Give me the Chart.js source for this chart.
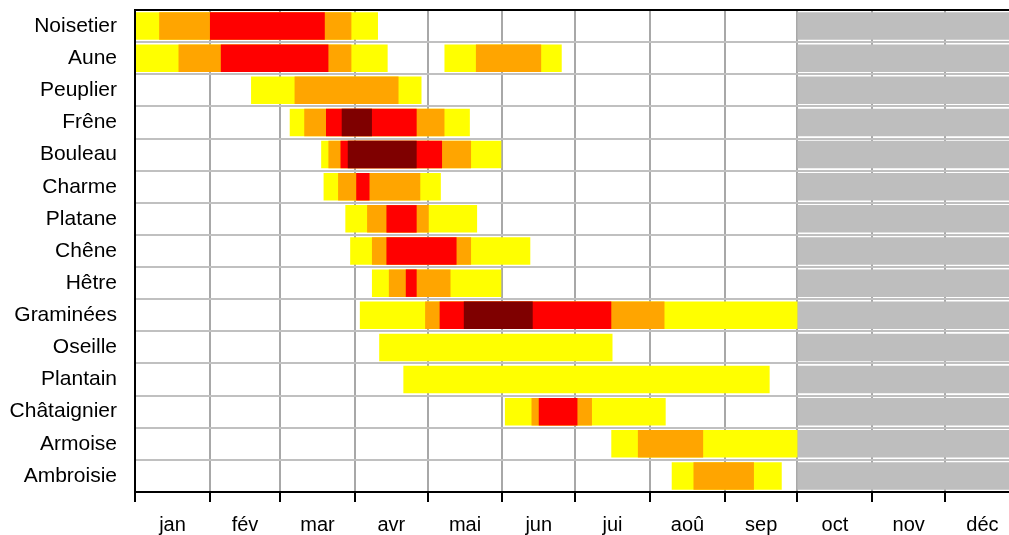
<!DOCTYPE html>
<html>
<head>
<meta charset="utf-8">
<script src="https://cdn.jsdelivr.net/npm/chart.js@4.4.0/dist/chart.umd.min.js"></script>
<style>
html,body{margin:0;padding:0;background:#fff;overflow:hidden}
#wrap{width:1009px;height:535px;position:relative}
</style>
</head>
<body>
<div id="wrap"><canvas id="c"></canvas></div>
<script>
// Categories
const species = ['Noisetier','Aune','Peuplier','Frêne','Bouleau','Charme','Platane','Chêne','Hêtre','Graminées','Oseille','Plantain','Châtaignier','Armoise','Ambroisie'];
// Month tick labels and month start (day of year, leap year)
const monthLabels = ['jan','fév','mar','avr','mai','jun','jui','aoû','sep','oct','nov','déc'];
const monthStarts = [0,31,60,91,121,152,182,213,244,274,305,335,366];
// Pollen periods [startDay, endDay] per level (nested), null = none
const lowLevel      = [[0,100.5],[0,104.5],[48,118.5],[64,138.5],[77,151.5],[78,126.5],[87,141.5],[89,163.5],[98,151.5],[93,274],[101,197.5],[111,262.5],[153,219.5],[197,274],[222,267.5]];
const mediumLevel   = [[10,89.5],[18,89.5],[66,109],[70,128],[80,139],[84,118],[96,121.5],[98,139],[105,130.5],[120,219],null,null,[164,189],[208,235],[231,256]];
const highLevel     = [[31,78.5],[35.5,80],null,[79,116.5],[85,127],[91.5,97],[104,116.5],[104,133],[112,116.5],[126,197],null,null,[167,183],null,null];
const veryHighLevel = [null,null,null,[85.5,98],[88,116.5],null,null,null,null,[136,164.5],null,null,null,null,null];
// Second (late) period
const lowLevelLate    = [null,[128,176.5],null,null,null,null,null,null,null,null,null,null,null,null,null];
const mediumLevelLate = [null,[141,168],null,null,null,null,null,null,null,null,null,null,null,null,null];
// Off-season shaded period
const offSeason = [274, 366];

const X_MAX = 361.5;
const FONT = "'Liberation Sans', Arial, Helvetica, sans-serif";

function mkDs(label, data, color, order) {
  return { label, data, backgroundColor: color, borderWidth: 0, grouped: false,
           barPercentage: 0.856, categoryPercentage: 1, order };
}

function noPad(s) { s.paddingTop = 0; s.paddingBottom = 0; s.paddingLeft = 0; s.paddingRight = 0; }

const topBorder = {
  id: 'topBorder',
  afterDraw(chart) {
    const { ctx, chartArea: a } = chart;
    ctx.save();
    ctx.strokeStyle = '#000';
    ctx.lineWidth = 2;
    ctx.beginPath();
    ctx.moveTo(a.left - 1, a.top);
    ctx.lineTo(a.right, a.top);
    ctx.stroke();
    ctx.restore();
  }
};

new Chart(document.getElementById('c'), {
  type: 'bar',
  data: {
    labels: species,
    datasets: [
      mkDs('très élevé', veryHighLevel, '#7f0000', 1),
      mkDs('élevé', highLevel, '#ff0000', 2),
      mkDs('moyen', mediumLevel, '#ffa500', 3),
      mkDs('moyen (tardif)', mediumLevelLate, '#ffa500', 3),
      mkDs('faible', lowLevel, '#ffff00', 4),
      mkDs('faible (tardif)', lowLevelLate, '#ffff00', 4),
      mkDs('hors saison', species.map(() => offSeason), '#bebebe', 5)
    ]
  },
  options: {
    indexAxis: 'y',
    responsive: true,
    maintainAspectRatio: false,
    animation: false,
    layout: { padding: { top: 10, left: 0, right: 0, bottom: 0 } },
    plugins: { legend: { display: false }, tooltip: { enabled: false } },
    scales: {
      x: {
        type: 'linear', min: 0, max: X_MAX, position: 'bottom', weight: 0, z: 1,
        afterBuildTicks: s => { s.ticks = monthStarts.filter(v => v <= X_MAX).map(v => ({ value: v })); },
        grid: {
          color: c => (c.tick && c.tick.value === 0) ? 'rgba(0,0,0,0)' : '#a8a8a8',
          lineWidth: 2, drawTicks: true, tickLength: 10, tickColor: '#000', tickWidth: 2
        },
        border: { display: true, color: '#000', width: 2 },
        ticks: { display: false },
        afterFit: s => { s.height = 10; noPad(s); }
      },
      x2: {
        type: 'linear', min: 0, max: X_MAX, position: 'bottom', weight: 1,
        afterBuildTicks: s => { s.ticks = monthLabels.map((m, i) => ({ value: (monthStarts[i] + monthStarts[i + 1]) / 2 })); },
        ticks: {
          callback: (v, i) => monthLabels[i],
          font: { family: FONT, size: 20 }, color: '#000', padding: 11,
          maxRotation: 0, minRotation: 0, autoSkip: false
        },
        grid: { display: false, drawTicks: false },
        border: { display: false },
        afterFit: s => { s.height = 33; noPad(s); }
      },
      y: {
        type: 'category', offset: true,
        grid: { color: '#c0c0c0', lineWidth: 2, drawTicks: false, offset: true },
        border: { color: '#000', width: 2 },
        ticks: { font: { family: FONT, size: 21 }, color: '#000', padding: 18, autoSkip: false },
        afterFit: s => { s.width = 135; noPad(s); }
      }
    }
  },
  plugins: [topBorder]
});
</script>
</body>
</html>
